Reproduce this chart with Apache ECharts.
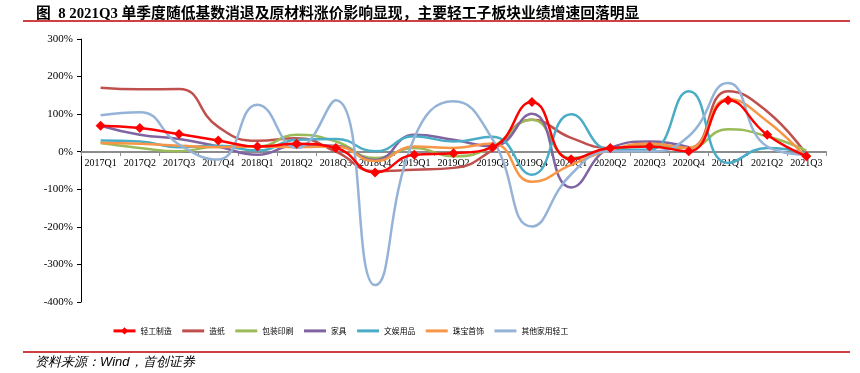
<!DOCTYPE html>
<html>
<head>
<meta charset="utf-8">
<script src="https://cdn.jsdelivr.net/npm/echarts@6/dist/echarts.min.js"></script>
<style>
html,body{margin:0;padding:0;background:#fff;}
#c{width:860px;height:373px;}
</style>
</head>
<body>
<div id="c"></div>
<script>
const categories = ['2017Q1','2017Q2','2017Q3','2017Q4','2018Q1','2018Q2','2018Q3','2018Q4','2019Q1','2019Q2','2019Q3','2019Q4','2020Q1','2020Q2','2020Q3','2020Q4','2021Q1','2021Q2','2021Q3'];
const seriesNames = ['轻工制造','造纸','包装印刷','家具','文娱用品','珠宝首饰','其他家用轻工'];
const qinggong = [69, 63, 47, 30, 14, 21, 10, -55, -8, -4, 12, 132, -20, 10, 14, 1, 137, 45, -12];
const zaozhi = [170, 166, 167, 66, 29, 36, 0, -52, -48, -43, 5, 85, 37, 10, 16, 10, 161, 107, -8];
const baozhuang = [23, 10, 1, 14, 14, 45, 27, -17, 10, -12, 14, 85, -17, 5, 16, 10, 60, 41, 3];
const jiaju = [69, 45, 34, 14, -8, 18, 16, -22, 45, 32, 14, 101, -95, 10, 27, 12, null, null, null];
const wenyu = [30, 27, 12, 16, 3, 32, 34, 1, 41, 27, 40, -61, 100, 5, 5, 161, -30, 10, -4];
const zhubao = [23, 21, 16, 12, 14, 12, 14, -25, 14, 10, 22, -80, -35, 5, 21, 10, 140, 81, -17];
const qita = [97, 105, 19, -21, 125, 10, 137, -355, 37, 134, 32, -199, -60, 1, 1, 41, 183, 14, -8];
const yTicks = [-400, 300, 100];

const colors = ['#FF0000','#C0504D','#9BBB59','#8064A2','#4BACC6','#F79646','#95B3D7'];
const allData = [qinggong, zaozhi, baozhuang, jiaju, wenyu, zhubao, qita];

const chart = echarts.init(document.getElementById('c'), null, {renderer:'canvas'});
const series = allData.map((d, i) => ({
  name: seriesNames[i],
  type: 'line',
  data: d,
  smooth: 0.5,
  symbol: i === 0 ? 'diamond' : 'none',
  symbolSize: 10,
  showSymbol: i === 0,
  connectNulls: false,
  z: i === 0 ? 5 : 2,
  itemStyle: {color: colors[i]},
  lineStyle: {color: colors[i], width: 2.5},
  emphasis: {disabled: true},
  animation: false
}));

const legendData = seriesNames.map((n, i) => i === 0
  ? {name: n}
  : {name: n, itemStyle: {opacity: 0}});

chart.setOption({
  animation: false,
  backgroundColor: '#fff',
  color: colors,
  title: {
    text: '图  8 2021Q3 单季度随低基数消退及原材料涨价影响显现，主要轻工子板块业绩增速回落明显',
    left: 31, top: 2,
    textStyle: {fontSize: 14.8, fontWeight: 'bold', color: '#000', fontFamily: '"Liberation Serif","Noto Sans CJK SC",serif'}
  },
  grid: {left: 81, right: 34, top: 39, bottom: 71, containLabel: false},
  legend: {
    left: 112, top: 327, padding: 0,
    itemWidth: 22, itemHeight: 9, itemGap: 9,
    lineStyle: {width: 3},
    textStyle: {fontSize: 7.8, color: '#000', fontFamily: '"Noto Sans CJK SC",sans-serif'},
    data: legendData
  },
  xAxis: {
    type: 'category',
    data: categories,
    boundaryGap: true,
    offset: -150,
    axisLine: {onZero: false, lineStyle: {color: '#8c8c8c', width: 2}},
    axisTick: {show: true, length: 4, lineStyle: {color: '#8c8c8c'}},
    axisLabel: {interval: 0, fontSize: 10, color: '#000', margin: 6, fontFamily: '"Liberation Serif",serif'},
    splitLine: {show: false}
  },
  yAxis: {
    type: 'value',
    min: yTicks[0], max: yTicks[1], interval: yTicks[2],
    axisLine: {show: true, lineStyle: {color: '#000', width: 1}},
    axisTick: {show: true, length: 4, lineStyle: {color: '#000'}},
    axisLabel: {formatter: '{value}%', fontSize: 11, color: '#000', margin: 8, fontFamily: '"Liberation Serif",serif'},
    splitLine: {show: false}
  },
  graphic: [
    {type: 'line', shape: {x1: 23, y1: 21, x2: 850, y2: 21}, style: {stroke: '#C00000', lineWidth: 1.5}},
    {type: 'line', shape: {x1: 23, y1: 352, x2: 850, y2: 352}, style: {stroke: '#C00000', lineWidth: 1.5}},
    {type: 'text', left: 35, top: 356, style: {text: '资料来源：Wind，首创证券', fontSize: 13, fontStyle: 'italic', fill: '#000', font: 'italic 13px "Liberation Serif","Noto Sans CJK SC",serif'}}
  ],
  series: series
});
</script>
</body>
</html>
